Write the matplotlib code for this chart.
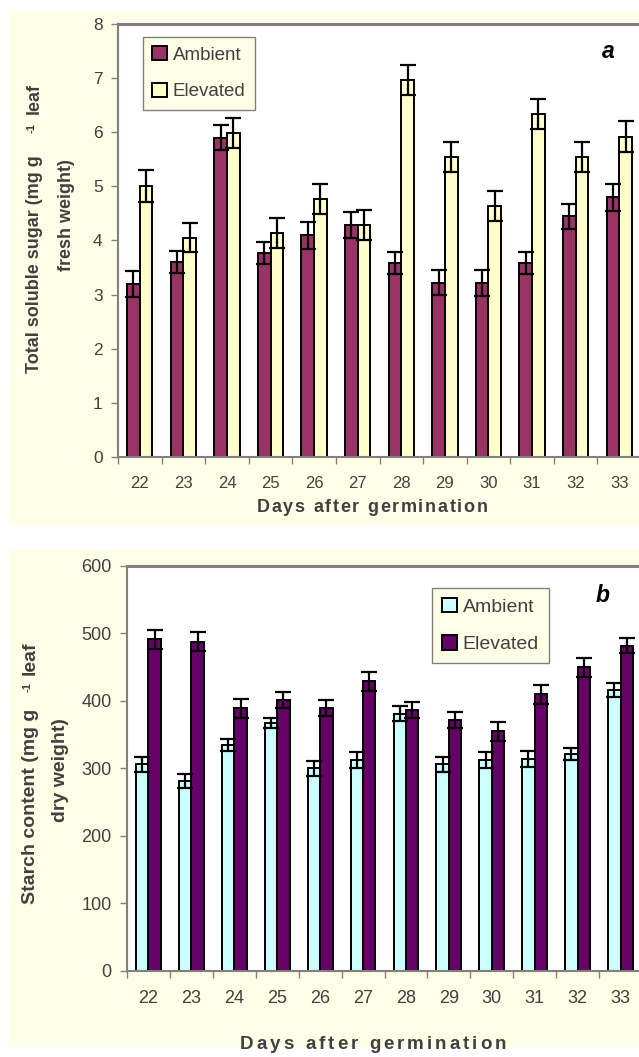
import matplotlib
matplotlib.use("Agg")
import matplotlib.pyplot as plt
from matplotlib.patches import Rectangle, Patch
from matplotlib.font_manager import FontProperties
import numpy as np

plt.rcParams['font.family'] = ['Liberation Sans', 'DejaVu Sans']

days = ['22', '23', '24', '25', '26', '27', '28', '29', '30', '31', '32', '33']

sugar_ambient = [3.2, 3.6, 5.9, 3.77, 4.1, 4.29, 3.59, 3.22, 3.22, 3.59, 4.45, 4.8]
sugar_ambient_err = [0.24, 0.2, 0.23, 0.2, 0.25, 0.24, 0.2, 0.23, 0.24, 0.2, 0.23, 0.25]
sugar_elevated = [5.01, 4.05, 5.99, 4.14, 4.77, 4.29, 6.97, 5.54, 4.64, 6.34, 5.54, 5.92]
sugar_elevated_err = [0.29, 0.27, 0.28, 0.28, 0.28, 0.28, 0.28, 0.28, 0.28, 0.28, 0.28, 0.28]

starch_ambient = [306, 281, 335, 367, 300, 312, 381, 306, 312, 314, 321, 416]
starch_ambient_err = [11, 10, 9, 8, 11, 12, 11, 11, 12, 12, 9, 10]
starch_elevated = [491, 488, 389, 401, 389, 429, 386, 371, 355, 410, 450, 482]
starch_elevated_err = [14, 14, 14, 12, 12, 14, 12, 12, 14, 14, 14, 11]

W, H = 639, 1057
fig = plt.figure(figsize=(W / 100, H / 100), dpi=100)
fig.patch.set_facecolor('white')
renderer = fig.canvas.get_renderer()

cream = '#FFFFE8'
gray = '#808080'
txt = '#404040'


def fx(px):
    return px / W


def fy(py):
    return 1 - py / H


def spaced_text(xc, ybase, s, size, spacing):
    fp = FontProperties(family=['Liberation Sans', 'DejaVu Sans'], weight='bold', size=size)

    def width(t):
        w, _, _ = renderer.get_text_width_height_descent(t + 'l', fp, ismath=False)
        wl, _, _ = renderer.get_text_width_height_descent('l', fp, ismath=False)
        return w - wl

    total = width(s) + spacing * (len(s) - 1)
    x0 = xc - total / 2
    for i, ch in enumerate(s):
        if ch == ' ':
            continue
        xi = x0 + width(s[:i]) + i * spacing
        fig.text(fx(xi), fy(ybase), ch, fontproperties=fp, color=txt,
                 ha='left', va='baseline')


def rtext(x, y, s, size, ha='center', weight='bold'):
    fig.text(fx(x), fy(y), s, rotation=90, rotation_mode='anchor', fontsize=size,
             fontweight=weight, color=txt, ha=ha, va='baseline')


# panel backgrounds
fig.patches.append(Rectangle((fx(9), fy(525)), fx(639 - 9), (525 - 12) / H,
                             transform=fig.transFigure, facecolor=cream,
                             edgecolor='none', zorder=-10))
fig.patches.append(Rectangle((fx(9), fy(1047)), fx(639 - 9), (1047 - 550) / H,
                             transform=fig.transFigure, facecolor=cream,
                             edgecolor='none', zorder=-10))


def panel(rect, amb, amb_err, ele, ele_err, c_amb, c_ele, ylim, yticks,
          xtick_size, ytick_size, leg_size, leg_xy, letter, letter_xy):
    ax = fig.add_axes(rect)
    ax.set_facecolor('white')
    x = np.arange(len(days))
    w = 0.29
    ax.bar(x - w / 2, amb, w, color=c_amb, edgecolor='black', linewidth=1.4, zorder=2)
    ax.bar(x + w / 2, ele, w, color=c_ele, edgecolor='black', linewidth=1.4, zorder=2)
    ax.errorbar(x - w / 2, amb, yerr=amb_err, fmt='none', ecolor='black',
                elinewidth=1.6, capsize=5.5, capthick=1.6, zorder=3)
    ax.errorbar(x + w / 2, ele, yerr=ele_err, fmt='none', ecolor='black',
                elinewidth=1.6, capsize=5.5, capthick=1.6, zorder=3)
    ax.set_xlim(-0.5, len(days) - 0.5)
    ax.set_ylim(*ylim)
    ax.set_yticks(yticks)
    ax.set_xticks(x)
    ax.set_xticklabels(days)
    ax.set_xticks(np.arange(len(days) + 1) - 0.5, minor=True)
    ax.tick_params(axis='x', which='major', length=0, pad=14, labelsize=xtick_size,
                   labelcolor=txt)
    ax.tick_params(axis='x', which='minor', length=5, color=gray, width=1)
    ax.tick_params(axis='y', length=5, color=gray, width=1, labelsize=ytick_size,
                   labelcolor=txt, pad=6)
    for s in ['left', 'bottom', 'top']:
        ax.spines[s].set_color(gray)
        ax.spines[s].set_linewidth(1.5)
    ax.spines['top'].set_linewidth(2.2)
    ax.spines['right'].set_visible(False)
    leg = ax.legend(handles=[Patch(facecolor=c_amb, edgecolor='black', linewidth=1.4,
                                   label='Ambient'),
                             Patch(facecolor=c_ele, edgecolor='black', linewidth=1.4,
                                   label='Elevated')],
                    loc='upper left', bbox_to_anchor=(fx(leg_xy[0]), fy(leg_xy[1])),
                    bbox_transform=fig.transFigure, borderaxespad=0,
                    frameon=True, fancybox=False, fontsize=leg_size, handlelength=0.78,
                    handleheight=0.78, handletextpad=0.3, labelspacing=1.0,
                    borderpad=0.5, labelcolor=txt)
    leg.get_frame().set_facecolor(cream)
    leg.get_frame().set_edgecolor(gray)
    leg.get_frame().set_linewidth(1.0)
    leg.get_frame().set_alpha(1)
    fig.text(fx(letter_xy[0]), fy(letter_xy[1]), letter, fontsize=16.5, fontweight='bold',
             fontstyle='italic', ha='center', va='center', color='black')
    return ax


# panel a
panel([fx(118), fy(457), 523 / W, (457 - 24) / H],
      sugar_ambient, sugar_ambient_err, sugar_elevated, sugar_elevated_err,
      '#993366', '#FFFFCC', (0, 8), range(0, 9), 12, 12.5, 13.5, (143, 37),
      'a', (608, 52))
rtext(39, 264, 'Total soluble sugar (mg g', 13)
rtext(35, 128, '-1', 8)
rtext(39, 99, 'leaf', 13)
rtext(71, 215, 'fresh weight)', 13)
spaced_text(372, 512, 'Days after germination', 13, 1.7)

# panel b
panel([fx(127), fy(970.5), 515 / W, (970.5 - 566) / H],
      starch_ambient, starch_ambient_err, starch_elevated, starch_elevated_err,
      '#CCFFFF', '#660066', (0, 600), range(0, 601, 100), 13, 13, 14, (432, 588),
      'b', (603, 595))
rtext(35, 806, 'Starch content (mg g', 14)
rtext(31, 687, '-1', 8)
rtext(35, 658, 'leaf', 14)
rtext(65, 770, 'dry weight)', 14)
spaced_text(373, 1049, 'Days after germination', 13.5, 3.0)

fig.savefig('out.png', dpi=100)
